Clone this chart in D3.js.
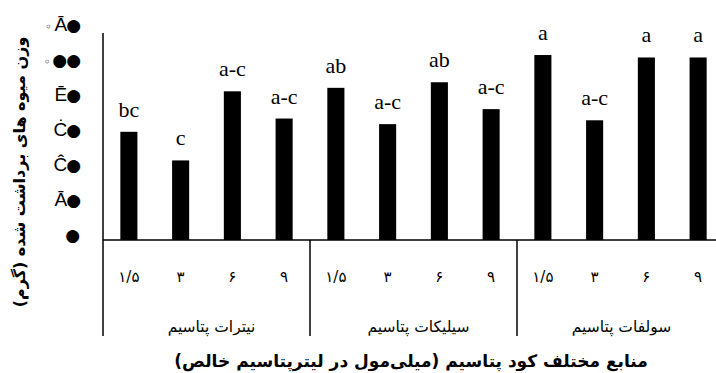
<!DOCTYPE html>
<html><head><meta charset="utf-8">
<script src="https://cdn.jsdelivr.net/npm/d3@7"></script>
<style>
html,body{margin:0;padding:0;background:#fff;}
svg{display:block;}
</style></head>
<body>
<svg id="chart" width="716" height="373"></svg>
<script>
const groups = ["نیترات پتاسیم", "سیلیکات پتاسیم", "سولفات پتاسیم"];
const levels = ["۱/۵", "۳", "۶", "۹"];
const nitrateValues = [31.0, 22.8, 42.6, 34.8];
const silicateValues = [43.6, 33.2, 45.2, 37.5];
const sulfateValues = [53.0, 34.3, 52.3, 52.3];
const nitrateLetters = ["bc", "c", "a-c", "a-c"];
const silicateLetters = ["ab", "a-c", "ab", "a-c"];
const sulfateLetters = ["a", "a-c", "a", "a"];
const yTicks = [0, 10, 20, 30, 40, 50, 60];
const yTickLabels = ["●", "Ā●", "Ĉ●", "Ċ●", "Ē●", "◦●●", "◦Ā●"];
const yTitle = "وزن میوه های برداشت شده (گرم)";
const xTitle = "منابع مختلف کود پتاسیم (میلی‌مول در لیترپتاسیم خالص)";

const seriesValues = [nitrateValues, silicateValues, sulfateValues];
const seriesLetters = [nitrateLetters, silicateLetters, sulfateLetters];
const data = [];
groups.forEach((g, gi) => levels.forEach((l, li) => {
  data.push({key: gi + "-" + li, group: gi, level: l, value: seriesValues[gi][li], letter: seriesLetters[gi][li]});
}));

const svg = d3.select("#chart");
const left = 103, right = 724, base = 240;
const x = d3.scaleBand().domain(data.map(d => d.key)).range([left, right]).paddingInner(0.67).paddingOuter(0.335);
const y = d3.scaleLinear().domain([0, 60]).range([base, 30.6]);
const step = x.step(), gap = (step - x.bandwidth()) / 2;

// bars
svg.append("g").selectAll("rect").data(data).join("rect")
  .attr("x", d => x(d.key)).attr("width", x.bandwidth())
  .attr("y", d => y(d.value)).attr("height", d => y(0) - y(d.value))
  .attr("fill", "#000");

// letters
svg.append("g").selectAll("text").data(data).join("text")
  .attr("x", d => x(d.key) + x.bandwidth() / 2)
  .attr("y", d => y(d.value) - 15)
  .attr("text-anchor", "middle")
  .attr("font-family", "'Liberation Serif', 'Times New Roman', serif")
  .attr("font-size", 22)
  .text(d => d.letter);

// y axis
const yAxis = svg.append("g").attr("transform", `translate(${left},0)`)
  .call(d3.axisLeft(y).tickValues(yTicks).tickFormat((d, i) => yTickLabels[i]).tickSize(0).tickPadding(22));
yAxis.select(".domain").remove();
yAxis.selectAll("text").each(function() {
  const t = d3.select(this);
  const s = t.text();
  t.text(null).attr("font-family", "'Liberation Sans', sans-serif")
    .attr("font-size", 19).attr("fill", "#000").attr("dy", "0.02em");
  Array.from(s).forEach(ch => {
    const sp = t.append("tspan").text(ch);
    if (ch === "●") sp.attr("font-family", "'DejaVu Sans', sans-serif").attr("font-size", 17).attr("dx", -1);
    if (ch === "◦") sp.text("◦\u2009").attr("font-family", "'DejaVu Sans', sans-serif").attr("font-size", 12);
  });
});

// x axis (level labels)
const xAxis = svg.append("g").attr("transform", `translate(0,${base})`)
  .call(d3.axisBottom(x).tickFormat((k, i) => data[i].level).tickSize(0).tickPadding(31));
xAxis.select(".domain").remove();
xAxis.selectAll("text").attr("font-family", "'DejaVu Sans', sans-serif").attr("font-size", 15).attr("fill", "#000");

// axis lines
svg.append("line").attr("x1", left).attr("x2", left).attr("y1", 33).attr("y2", 336)
  .attr("stroke", "#000").attr("stroke-width", 1.5);
svg.append("line").attr("x1", left).attr("x2", 716).attr("y1", base).attr("y2", base)
  .attr("stroke", "#000").attr("stroke-width", 1.5);

// group separators
[1, 2].forEach(gi => {
  const bx = x(gi + "-0") - gap;
  svg.append("line").attr("x1", bx).attr("x2", bx).attr("y1", base).attr("y2", 336)
    .attr("stroke", "#000").attr("stroke-width", 1.5);
});

// group labels
svg.append("g").selectAll("text").data(groups).join("text")
  .attr("x", (g, gi) => {
    const a = x(gi + "-0") - gap, b = x(gi + "-3") + x.bandwidth() + gap;
    return (a + Math.min(b, 716)) / 2 + 5;
  })
  .attr("y", 332)
  .attr("text-anchor", "middle")
  .attr("direction", "rtl")
  .attr("font-family", "'DejaVu Sans', sans-serif").attr("font-size", 15.5)
  .text(d => d);

// titles
svg.append("text").attr("x", 411).attr("y", 367).attr("text-anchor", "middle")
  .attr("font-family", "'DejaVu Sans', sans-serif").attr("font-size", 17).attr("font-weight", "bold")
  .text(xTitle);
svg.append("text").attr("transform", "translate(25,172) rotate(-90)").attr("text-anchor", "middle")
  .attr("font-family", "'DejaVu Sans', sans-serif").attr("font-size", 16).attr("font-weight", "bold")
  .text(yTitle);
</script>
</body></html>
